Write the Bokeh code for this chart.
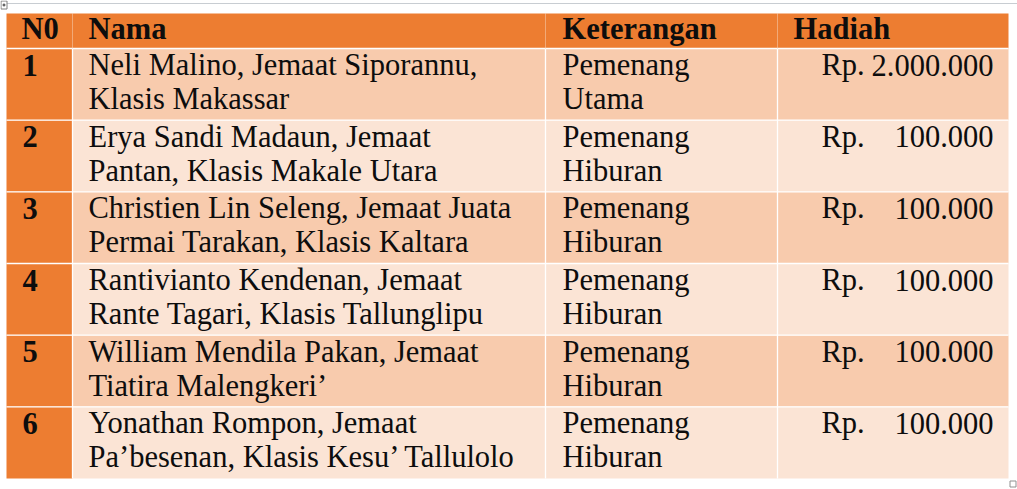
from bokeh.plotting import figure
from bokeh.models import Range1d
from bokeh.embed import file_html
from bokeh.resources import INLINE
from bokeh.core.properties import value

# ---- data ----
headers = ["N0", "Nama", "Keterangan", "Hadiah"]
numbers = ["1", "2", "3", "4", "5", "6"]
names_line1 = ["Neli Malino, Jemaat Siporannu,", "Erya Sandi Madaun, Jemaat",
               "Christien Lin Seleng, Jemaat Juata", "Rantivianto Kendenan, Jemaat",
               "William Mendila Pakan, Jemaat", "Yonathan Rompon, Jemaat"]
names_line2 = ["Klasis Makassar", "Pantan, Klasis Makale Utara",
               "Permai Tarakan, Klasis Kaltara", "Rante Tagari, Klasis Tallunglipu",
               "Tiatira Malengkeri\u2019", "Pa\u2019besenan, Klasis Kesu\u2019 Tallulolo"]
ket_line1 = ["Pemenang"] * 6
ket_line2 = ["Utama", "Hiburan", "Hiburan", "Hiburan", "Hiburan", "Hiburan"]
currency = ["Rp."] * 6
amounts = ["2.000.000", "100.000", "100.000", "100.000", "100.000", "100.000"]

# ---- layout ----
W, H = 1017, 489
COL = [6, 72, 545, 777, 1008]
HEAD_TOP, HEAD_BOT, TAB_BOT = 13, 48, 478
n = len(numbers)
rh = (TAB_BOT - HEAD_BOT) / n
row_top = [HEAD_BOT + i * rh for i in range(n)]

ORANGE = "#ED7D31"
DARK = "#F8CBAD"
LIGHT = "#FBE4D5"
FONT = value("Liberation Serif")
FS = "30.5px"
INK = "#0d0d0d"
BL = -11.5  # baseline correction

p = figure(width=W, height=H, x_range=Range1d(0, W), y_range=Range1d(H, 0),
           x_axis_type=None, y_axis_type=None, toolbar_location=None,
           output_backend="svg", min_border=0, outline_line_color=None,
           background_fill_color="white", border_fill_color="white")
p.grid.visible = False

# header band
p.quad(left=[COL[0]], right=[COL[-1]], top=[HEAD_TOP], bottom=[HEAD_BOT],
       fill_color=ORANGE, line_color=None)
# body rows
fills = [DARK if i % 2 == 0 else LIGHT for i in range(n)]
p.quad(left=[COL[1]] * n, right=[COL[-1]] * n, top=row_top,
       bottom=[t + rh for t in row_top], fill_color=fills, line_color=None)
# number column
p.quad(left=[COL[0]] * n, right=[COL[1]] * n, top=row_top,
       bottom=[t + rh for t in row_top], fill_color=ORANGE, line_color=None)

# row separators
p.segment(x0=[COL[0]] * n, x1=[COL[-1]] * n, y0=row_top, y1=row_top,
          line_color="white", line_width=1.3)
# column separators in body
p.segment(x0=COL[1:4], x1=COL[1:4], y0=[HEAD_BOT] * 3, y1=[TAB_BOT] * 3,
          line_color="white", line_width=1.3)
# dotted separators in header
p.segment(x0=COL[1:4], x1=COL[1:4], y0=[HEAD_TOP] * 3, y1=[HEAD_BOT] * 3,
          line_color="#F6D7BE", line_width=1, line_dash="1 1")

# top gray line and handles
p.segment(x0=[6], x1=[W], y0=[3], y1=[3], line_color="#C8CDD2", line_width=1)
p.quad(left=[0.5], right=[6.5], top=[0.5], bottom=[8.5], fill_color="white",
       line_color="#808080", line_width=1)
p.segment(x0=[2, 3.5], x1=[5, 3.5], y0=[4.5, 3], y1=[4.5, 6],
          line_color="#333333", line_width=1)
p.quad(left=[1009.5], right=[1015.5], top=[480.5], bottom=[486.5],
       fill_color="white", line_color="#909090", line_width=1)

# header texts
hx = [21, 88, 562, 793]
p.text(x=hx, y=[40 + BL] * 4, text=headers, text_font=FONT, text_font_size=FS,
       text_font_style="bold", text_color=INK, text_baseline="alphabetic")

# body texts
b1 = [t + 28 + BL for t in row_top]
b2 = [t + 62 + BL for t in row_top]
p.text(x=[22] * n, y=b1, text=numbers, text_font=FONT, text_font_size=FS,
       text_font_style="bold", text_color=INK, text_baseline="alphabetic")
p.text(x=[88] * n + [88] * n, y=b1 + b2, text=names_line1 + names_line2,
       text_font=FONT, text_font_size=FS, text_color=INK,
       text_baseline="alphabetic")
p.text(x=[562] * n + [562] * n, y=b1 + b2, text=ket_line1 + ket_line2,
       text_font=FONT, text_font_size=FS, text_color=INK,
       text_baseline="alphabetic")
p.text(x=[821] * n, y=b1, text=currency, text_font=FONT, text_font_size=FS,
       text_color=INK, text_baseline="alphabetic")
p.text(x=[993] * n, y=b1, text=amounts, text_font=FONT, text_font_size=FS,
       text_color=INK, text_baseline="alphabetic", text_align="right")

open("out.html", "w").write(file_html(p, INLINE))
